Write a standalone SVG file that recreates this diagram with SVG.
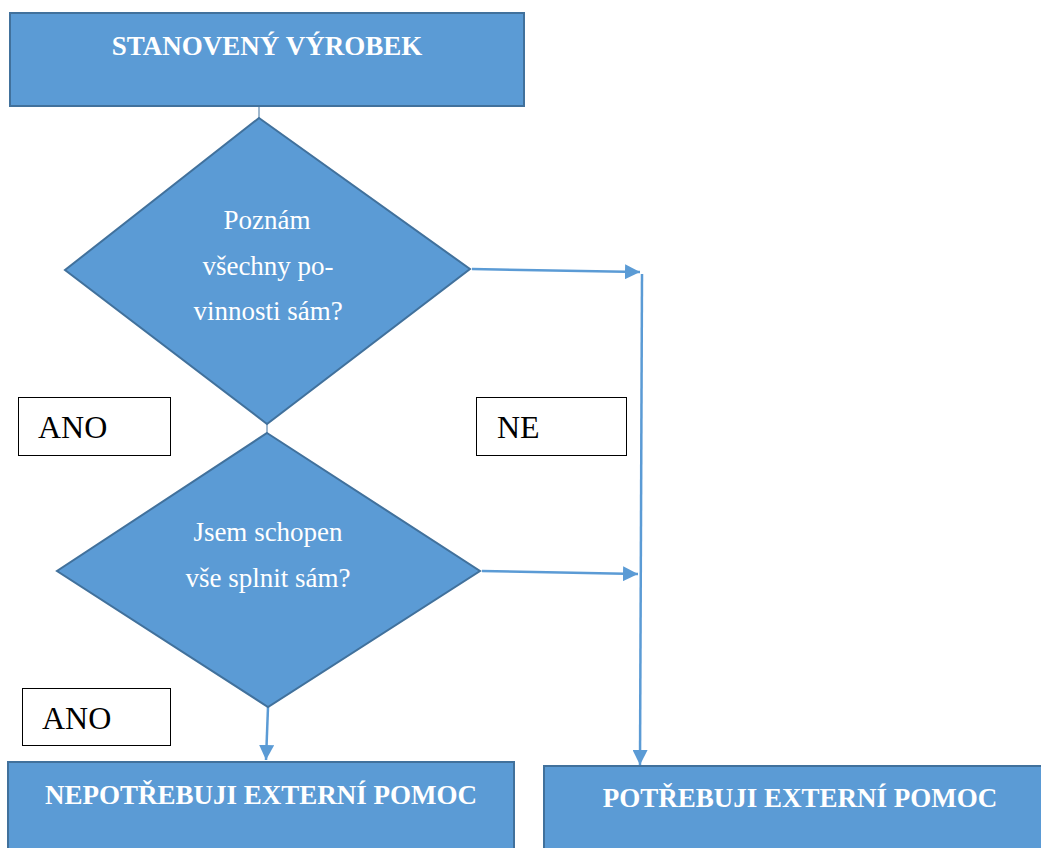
<svg xmlns="http://www.w3.org/2000/svg" width="1041" height="848" viewBox="0 0 1041 848">
  <style>
    .box { fill: #5B9BD5; stroke: #41719C; stroke-width: 2; }
    .label { fill: #FFFFFF; font-family: "Liberation Serif", "Times New Roman", serif; }
    .head { font-weight: bold; font-size: 27px; text-anchor: middle; }
    .q { font-size: 27px; text-anchor: middle; }
    .tag { fill: #FFFFFF; stroke: #000000; stroke-width: 1; }
    .tagtext { fill: #000000; font-family: "Liberation Serif", "Times New Roman", serif; font-size: 32px; }
    .conn { fill: none; stroke: #5B9BD5; stroke-width: 2.5; }
    .thin { fill: none; stroke: #41719C; stroke-width: 1; }
  </style>
  <defs>
    <marker id="arrow" viewBox="0 0 10 10" refX="10" refY="5" markerWidth="6" markerHeight="6" markerUnits="strokeWidth" orient="auto">
      <path d="M0,0 L10,5 L0,10 Z" fill="#5B9BD5"/>
    </marker>
  </defs>

  <g id="connectors">
    <line class="thin" x1="259" y1="106" x2="259" y2="118"/>
    <line class="thin" x1="267" y1="424" x2="267" y2="433"/>
    <line class="conn" x1="472" y1="269" x2="640" y2="272" marker-end="url(#arrow)"/>
    <line class="conn" x1="482" y1="571" x2="638" y2="574" marker-end="url(#arrow)"/>
    <line class="conn" x1="642" y1="274" x2="640" y2="765" marker-end="url(#arrow)"/>
    <line class="conn" x1="268" y1="707" x2="266" y2="760" marker-end="url(#arrow)"/>
  </g>

  <g id="start">
    <rect class="box" x="10" y="13" width="514" height="93"/>
    <text class="label head" x="267" y="55">STANOVENÝ VÝROBEK</text>
  </g>

  <g id="decision-duties">
    <polygon class="box" points="259,118 470,269 267,424 65,270"/>
    <text class="label q" x="267" y="229">Poznám</text>
    <text class="label q" x="268" y="275">všechny po-</text>
    <text class="label q" x="268" y="320">vinnosti sám?</text>
  </g>

  <g id="decision-ability">
    <polygon class="box" points="267,433 480,571 268,707 57,571"/>
    <text class="label q" x="268" y="541">Jsem schopen</text>
    <text class="label q" x="268" y="587">vše splnit sám?</text>
  </g>

  <g id="tag-ano-1">
    <rect class="tag" x="18.5" y="397.5" width="152" height="58"/>
    <text class="tagtext" x="38" y="438">ANO</text>
  </g>

  <g id="tag-ne">
    <rect class="tag" x="476.5" y="397.5" width="150" height="58"/>
    <text class="tagtext" x="497" y="438">NE</text>
  </g>

  <g id="tag-ano-2">
    <rect class="tag" x="22.5" y="688.5" width="148" height="57"/>
    <text class="tagtext" x="42" y="729">ANO</text>
  </g>

  <g id="no-help">
    <rect class="box" x="8" y="762" width="506" height="100"/>
    <text class="label head" x="261" y="804">NEPOTŘEBUJI EXTERNÍ POMOC</text>
  </g>

  <g id="need-help">
    <rect class="box" x="544" y="766" width="510" height="100"/>
    <text class="label head" x="800" y="807">POTŘEBUJI EXTERNÍ POMOC</text>
  </g>
</svg>
